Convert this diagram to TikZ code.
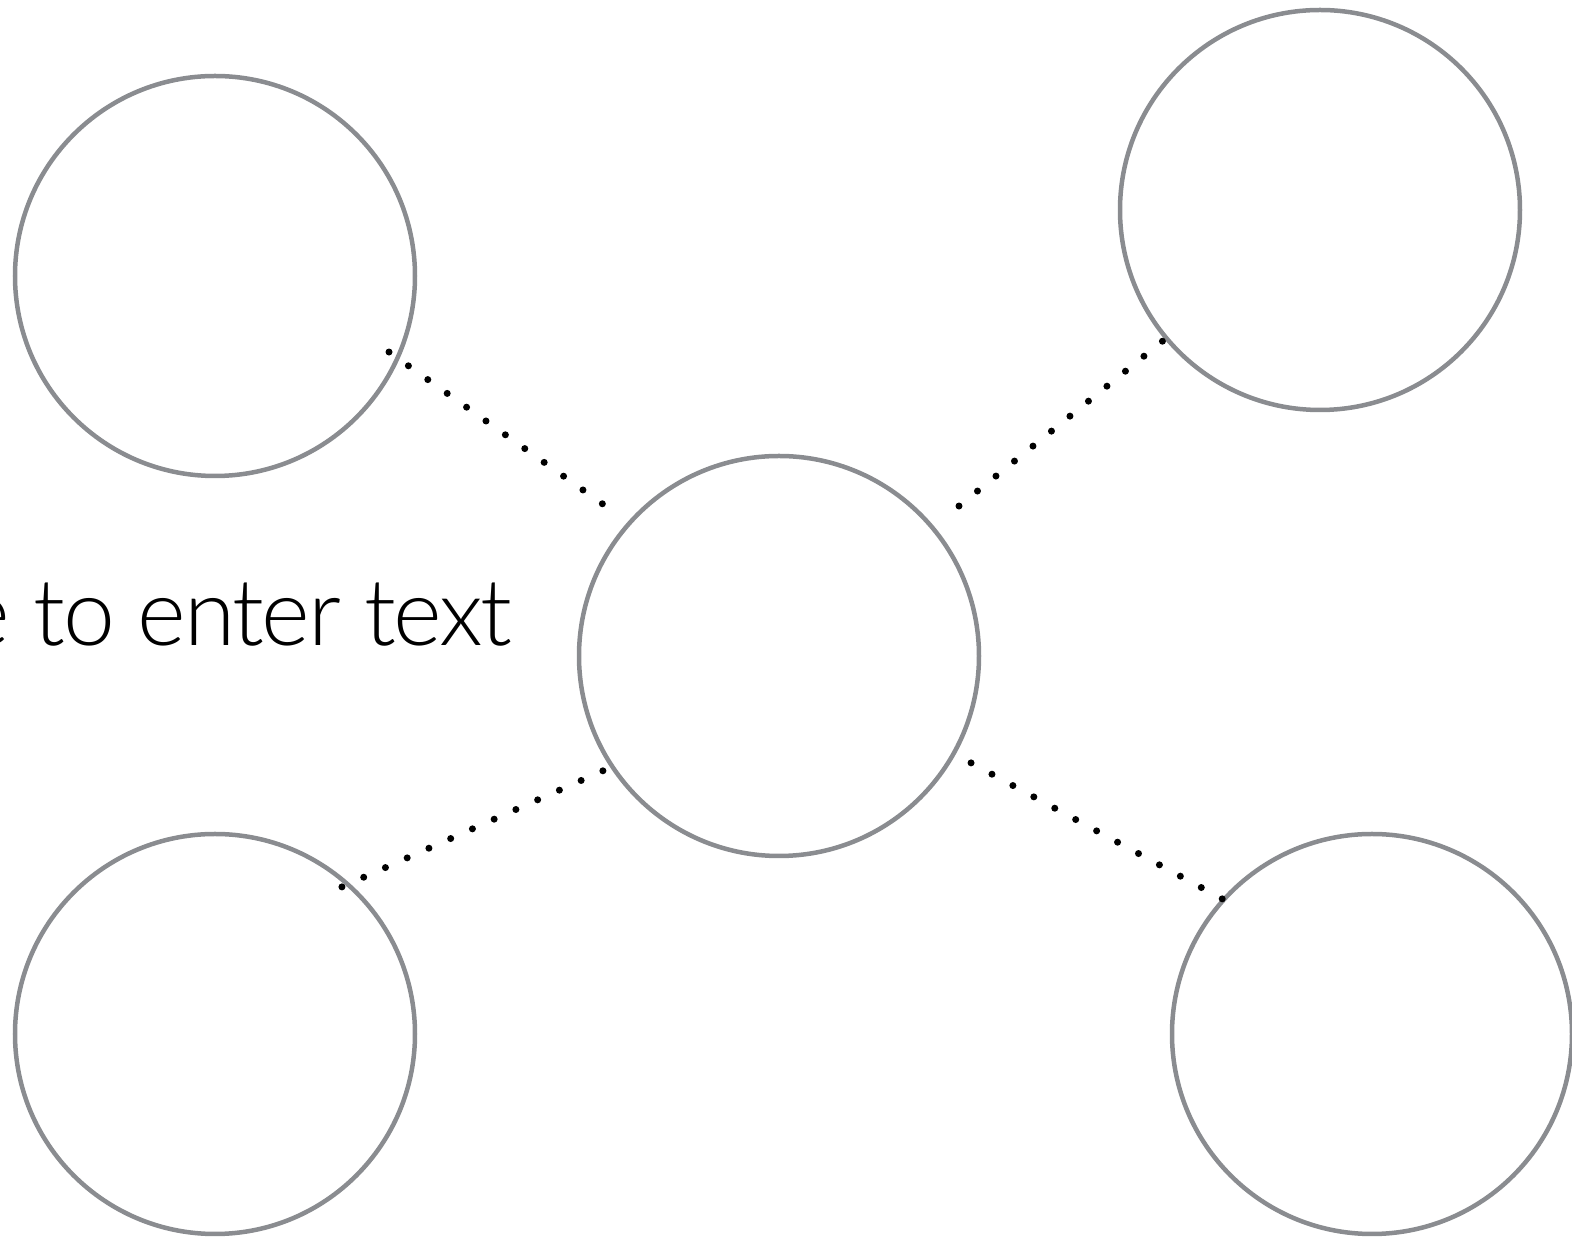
\documentclass[tikz,border=0pt]{standalone}
\usepackage{fontspec}
\usetikzlibrary{calc}
\IfFontExistsTF{Lato Light}{\newfontfamily\hintfont[LetterSpace=-2.5]{Lato Light}}{\newfontfamily\hintfont{TeX Gyre Heros}}
\definecolor{ringgray}{RGB}{138,140,144}
\tikzset{
    ring/.style={circle, draw=ringgray, line width=0.045cm, minimum size=4cm, inner sep=0pt},
    dotline/.style={line width=0.07cm, line cap=round, dash pattern=on 0pt off 0.238cm}
}

\begin{document}
\begin{tikzpicture}
    \useasboundingbox (0,0) rectangle (15.72,12.38);

    \node[ring] (ctr) at (7.79,5.82) {};
    \node[ring] (tl) at (2.15,9.62) {};
    \node[ring] (tr) at (13.20,10.28) {};
    \node[ring] (bl) at (2.15,2.04) {};
    \node[ring] (br) at (13.72,2.04) {};

    \node[anchor=base east, inner sep=0pt, font=\hintfont\fontsize{26.5}{30}\selectfont] (hint) at (5.13,5.92) {e to enter text};

    % ends of the dotted links
    \coordinate (tl-a) at ($(tl)+(-23.6:1.899)$);
    \coordinate (tl-b) at ($(ctr)+(139.2:2.311)$);
    \coordinate (tr-a) at ($(ctr)+(39.8:2.343)$);
    \coordinate (tr-b) at ($(tr)+(219.8:2.03)$);
    \coordinate (bl-a) at ($(bl)+(49.2:1.943)$);
    \coordinate (bl-b) at ($(ctr)+(213.2:2.08)$);
    \coordinate (br-a) at ($(ctr)+(-29.1:2.198)$);
    \coordinate (br-b) at ($(br)+(137.8:1.997)$);

    \draw[dotline] (tl-a) -- (tl-b);
    \draw[dotline] (tr-a) -- (tr-b);
    \draw[dotline] (bl-a) -- (bl-b);
    \draw[dotline] (br-a) -- (br-b);
\end{tikzpicture}
\end{document}
